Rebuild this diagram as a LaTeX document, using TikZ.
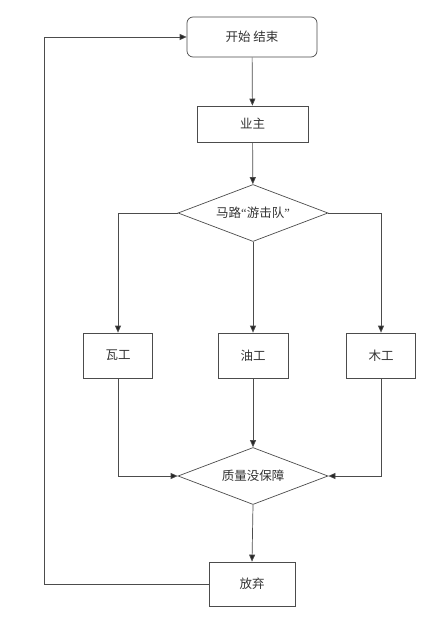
\documentclass[tikz,border=0pt]{standalone}
\usepackage{fontspec}
\newfontfamily\cjk{Noto Sans CJK SC}
\newfontfamily\qfont{Liberation Serif}
\usetikzlibrary{shapes.geometric,arrows.meta}
\begin{document}
\begin{tikzpicture}[x=1pt,y=-1pt,
  line/.style={draw=black!70,line width=0.7pt},
  arr/.style={line,-{Triangle[length=7pt,width=6pt,fill=black!85]}},
  box/.style={line,rectangle,minimum width=#1,inner sep=0pt,font=\cjk\fontsize{12.5}{14}\selectfont,text=black!80},
  dia/.style={line,diamond,aspect=2.6,minimum width=150pt,minimum height=57pt,inner sep=0pt,font=\cjk\fontsize{12.5}{14}\selectfont,text=black!80}]
\useasboundingbox[fill=white] (0,0) rectangle (447,628);
\node[box=130pt,minimum height=40pt,rounded corners=6pt] (start) at (252,37) {开始 结束};
\node[box=111pt,minimum height=36pt] (yz) at (252.5,124) {业主};
\node[dia] (d1) at (253,213) {马路{\qfont “}游击队{\qfont ”}};
\node[box=69pt,minimum height=45pt] (wa) at (118,355.5) {瓦工};
\node[box=70pt,minimum height=45pt] (you) at (253,355.5) {油工};
\node[box=69pt,minimum height=45pt] (mu) at (381,355.5) {木工};
\node[dia] (d2) at (253,476) {质量没保障};
\node[box=86pt,minimum height=44pt] (fq) at (252,584) {放弃};
\coordinate (lp) at (44,37);
\draw[arr] (start) -- (yz);
\draw[arr] (yz) -- (d1);
\draw[arr] (d1.west) -| (wa.north);
\draw[arr] (d1.south) -- (you.north);
\draw[arr] (d1.east) -| (mu.north);
\draw[arr] (wa.south) |- (d2.west);
\draw[arr] (you.south) -- (d2.north);
\draw[arr] (mu.south) |- (d2.east);
\draw[arr] (d2.south) -- (fq.north);
\draw[arr] (fq.west) -| (lp) |- (start.west);
\end{tikzpicture}
\end{document}
